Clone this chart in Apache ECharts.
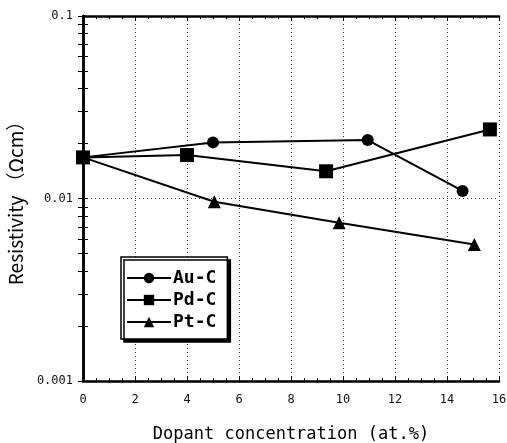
<!DOCTYPE html>
<html>
<head>
<meta charset="utf-8">
<script src="https://cdn.jsdelivr.net/npm/echarts@6/dist/echarts.min.js"></script>
<style>
  html, body { margin: 0; padding: 0; background: #fff; }
  #main { width: 507px; height: 443px; }
</style>
</head>
<body>
<div id="main"></div>
<script>
// dopant concentration (at.%) and resistivity (ohm cm)
var auX = [0, 5.0, 10.95, 14.6];
var auY = [0.0168, 0.0203, 0.0209, 0.0110];
var pdX = [0, 4.0, 9.35, 15.65];
var pdY = [0.0168, 0.0173, 0.0141, 0.0239];
var ptX = [0, 5.05, 9.85, 15.05];
var ptY = [0.0168, 0.0096, 0.00736, 0.0056];

var seriesNames = ['Au-C', 'Pd-C', 'Pt-C'];
var yTicks = [0.001, 0.002, 0.003, 0.004, 0.005, 0.006, 0.007, 0.008, 0.009,
              0.01, 0.02, 0.03, 0.04, 0.05, 0.06, 0.07, 0.08, 0.09, 0.1];

function pairs(xs, ys) {
  return xs.map(function (x, i) { return [x, ys[i]]; });
}

var myChart = echarts.init(document.getElementById('main'));
var frame = { show: true, lineStyle: { color: '#000', width: 2.5 } };
var dotted = { show: true, lineStyle: { color: '#333', type: [1, 3], width: 1 } };
var tick = { show: true, inside: true, length: 5, lineStyle: { color: '#000' } };
var minorY = { show: true, inside: true, length: 5, customValues: yTicks, lineStyle: { color: '#000' } };

var option = {
  animation: false,
  grid: { left: 83, top: 16, right: 8, bottom: 62, containLabel: false, outerBoundsMode: 'none' },
  legend: {
    data: seriesNames,
    orient: 'vertical',
    left: 121,
    top: 257,
    padding: [12, 11, 8, 5],
    itemWidth: 44,
    itemHeight: 13,
    itemGap: 4,
    backgroundColor: '#fff',
    borderColor: '#000',
    borderWidth: 1.5,
    borderRadius: 0,
    shadowColor: '#000',
    shadowBlur: 0,
    shadowOffsetX: 3,
    shadowOffsetY: 3,
    textStyle: { color: '#000', fontSize: 18, lineHeight: 14, fontWeight: 'bold', fontFamily: 'DejaVu Sans Mono', padding: [0, 0, 0, -3] }
  },
  xAxis: [{
    type: 'value',
    min: 0, max: 16, interval: 2,
    name: 'Dopant concentration (at.%)',
    nameLocation: 'middle',
    nameGap: 45,
    nameTextStyle: { color: '#000', fontSize: 17, fontFamily: 'DejaVu Sans Mono' },
    axisLine: frame,
    axisTick: tick,
    minorTick: { show: true, splitNumber: 4, length: 3, lineStyle: { color: '#000' } },
    axisLabel: { color: '#111', fontSize: 12, fontFamily: 'DejaVu Sans Mono', margin: 13 },
    splitLine: dotted
  }, {
    type: 'value',
    position: 'top',
    min: 0, max: 16, interval: 2,
    axisLine: frame,
    axisTick: tick,
    minorTick: { show: true, splitNumber: 4, length: 3, lineStyle: { color: '#000' } },
    axisLabel: { show: false },
    splitLine: { show: false }
  }],
  yAxis: [{
    type: 'log',
    logBase: 10,
    position: 'left',
    min: 0.001, max: 0.1,
    name: 'Resistivity （Ωcm）',
    nameLocation: 'middle',
    nameGap: 58,
    nameTextStyle: { color: '#000', fontSize: 19, fontFamily: 'Noto Sans CJK JP' },
    axisLine: frame,
    axisTick: minorY,
    axisLabel: { color: '#111', fontSize: 12, fontFamily: 'DejaVu Sans Mono', margin: 10 },
    splitLine: { show: false }
  }, {
    type: 'log',
    logBase: 10,
    position: 'right',
    min: 0.001, max: 0.1,
    axisLine: frame,
    axisTick: minorY,
    axisLabel: { show: false },
    splitLine: { show: false }
  }, {
    // only carries the dotted grid line at each decade
    type: 'log',
    logBase: 10,
    min: 0.001, max: 0.1,
    axisLine: { show: false },
    axisTick: { show: false },
    axisLabel: { show: false },
    splitLine: dotted
  }],
  series: [{
    name: 'Au-C',
    type: 'line',
    data: pairs(auX, auY),
    symbol: 'circle',
    symbolSize: 12,
    itemStyle: { color: '#000' },
    lineStyle: { color: '#000', width: 2 }
  }, {
    name: 'Pd-C',
    type: 'line',
    data: pairs(pdX, pdY),
    symbol: 'rect',
    symbolSize: 14,
    itemStyle: { color: '#000' },
    lineStyle: { color: '#000', width: 2 }
  }, {
    name: 'Pt-C',
    type: 'line',
    data: pairs(ptX, ptY),
    symbol: 'triangle',
    symbolSize: 13,
    itemStyle: { color: '#000' },
    lineStyle: { color: '#000', width: 2 }
  }]
};
myChart.setOption(option);
</script>
</body>
</html>
